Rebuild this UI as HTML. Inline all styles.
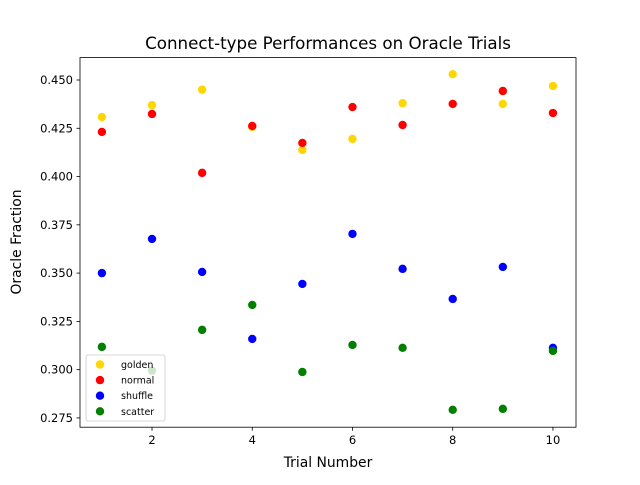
<!DOCTYPE html>
<html><head><meta charset="utf-8"><style>
body{margin:0;background:#fff;font-family:"Liberation Sans","DejaVu Sans",sans-serif}
svg text{font-family:"DejaVu Sans","Liberation Sans",sans-serif}
</style></head><body>
<svg id="chart" width="640" height="480" viewBox="0 0 640 480">
<rect width="640" height="480" fill="#fff"/>
<text x="328" y="49" font-size="16.7" text-anchor="middle">Connect-type Performances on Oracle Trials</text>
<g id="marks"></g>
<g id="axes"></g>
<text x="328" y="467" font-size="13.9" text-anchor="middle">Trial Number</text>
<text x="21" y="242" font-size="13.9" text-anchor="middle" transform="rotate(-90 21 242)">Oracle Fraction</text>
<g id="legend"></g>
</svg>
<script>
const trials=[1,2,3,4,5,6,7,8,9,10];
const golden=[0.4308,0.437,0.445,0.4257,0.4138,0.4195,0.438,0.453,0.4376,0.4469];
const normal=[0.4231,0.4324,0.4019,0.4262,0.4174,0.436,0.4267,0.4376,0.4443,0.4329];
const shuffle=[0.350,0.3677,0.3506,0.3159,0.3444,0.3703,0.3522,0.3366,0.3532,0.3113];
const scatterS=[0.3118,0.2995,0.3206,0.3335,0.2988,0.3128,0.3113,0.2792,0.2797,0.3097];
const xTicks=[2,4,6,8,10];
const yTicks=[0.275,0.300,0.325,0.350,0.375,0.400,0.425,0.450];
const seriesNames=["golden","normal","shuffle","scatter"];
const seriesColors=["#FFD700","red","blue","green"];
const seriesData=[golden,normal,shuffle,scatterS];

const L=80,R=576,T=57.6,B=427.2,xmin=0.563,xmax=10.46,ymin=0.2702,ymax=0.4616;
const X=v=>L+(v-xmin)/(xmax-xmin)*(R-L);
const Y=v=>B-(v-ymin)/(ymax-ymin)*(B-T);
const NS="http://www.w3.org/2000/svg";
function mk(tag,attrs,parent){const e=document.createElementNS(NS,tag);for(const k in attrs)e.setAttribute(k,attrs[k]);parent.appendChild(e);return e;}
const marks=document.getElementById('marks'),axes=document.getElementById('axes'),leg=document.getElementById('legend');
seriesData.forEach((arr,si)=>{arr.forEach((v,i)=>{
 const c=mk('circle',{cx:X(trials[i]),cy:Y(v),r:4.2,fill:seriesColors[si]},marks);
 
 
});});
const fr=mk('rect',{x:L,y:T,width:R-L,height:B-T,fill:'none',stroke:'#000','stroke-width':0.8},axes);


xTicks.forEach(t=>{const x=X(t);mk('line',{x1:x,x2:x,y1:B,y2:B+3.5,stroke:'#000','stroke-width':0.8},axes);
 const tx=mk('text',{x:x,y:B+17,'font-size':11.5,'text-anchor':'middle'},axes);tx.textContent=t;
 
 });
yTicks.forEach(t=>{const y=Y(t);mk('line',{x1:L-3.5,x2:L,y1:y,y2:y,stroke:'#000','stroke-width':0.8},axes);
 const tx=mk('text',{x:L-7,y:y+4,'font-size':11.5,'text-anchor':'end'},axes);tx.textContent=t.toFixed(3);
 
 });
mk('rect',{x:86,y:355,width:79,height:66,rx:2,fill:'#fff','fill-opacity':0.8,stroke:'#ccc','stroke-width':0.8},leg);
seriesNames.forEach((n,i)=>{const y=364.5+i*15.6;
 const c=mk('circle',{cx:100,cy:y,r:4.2,fill:seriesColors[i]},leg);
 
 
 const t=mk('text',{x:121,y:y+3.5,'font-size':9.5},leg);t.textContent=n;
 
 });
</script>
</body></html>
